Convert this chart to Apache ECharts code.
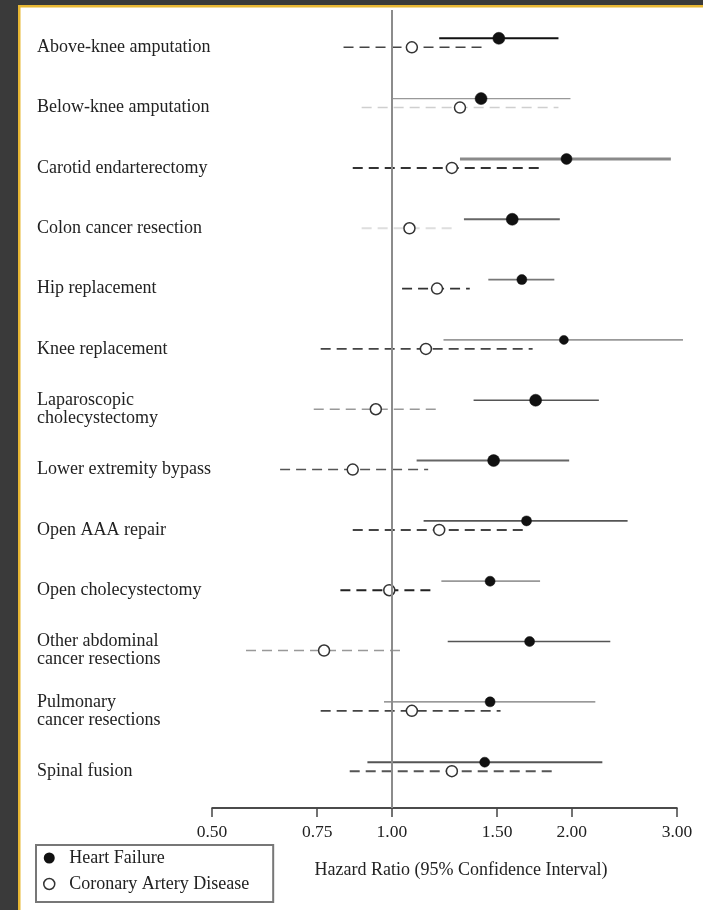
<!DOCTYPE html>
<html>
<head>
<meta charset="utf-8">
<script src="https://cdn.jsdelivr.net/npm/echarts@6/dist/echarts.min.js"></script>
<style>
  html, body { margin: 0; padding: 0; background: #fff; }
  #chart { width: 703px; height: 910px; }
</style>
</head>
<body>
<div id="chart"></div>
<script>
// Procedures, top to bottom
const procedures = [
  'Above-knee amputation',
  'Below-knee amputation',
  'Carotid endarterectomy',
  'Colon cancer resection',
  'Hip replacement',
  'Knee replacement',
  'Laparoscopic\ncholecystectomy',
  'Lower extremity bypass',
  'Open AAA repair',
  'Open cholecystectomy',
  'Other abdominal\ncancer resections',
  'Pulmonary\ncancer resections',
  'Spinal fusion'
];

// Heart failure: hazard ratio and 95% CI
const hfHR   = [1.51, 1.41, 1.96, 1.59, 1.65, 1.94, 1.74, 1.48, 1.68, 1.46, 1.70, 1.46, 1.43];
const hfLow  = [1.20, 1.00, 1.30, 1.32, 1.45, 1.22, 1.37, 1.10, 1.13, 1.21, 1.24, 0.97, 0.91];
const hfHigh = [1.90, 1.99, 2.93, 1.91, 1.87, 3.07, 2.22, 1.98, 2.48, 1.77, 2.32, 2.19, 2.25];

// Coronary artery disease: hazard ratio and 95% CI
const cadHR   = [1.08, 1.30, 1.26, 1.07, 1.19, 1.14, 0.94, 0.86, 1.20, 0.99, 0.77, 1.08, 1.26];
const cadLow  = [0.83, 0.89, 0.86, 0.89, 1.04, 0.76, 0.74, 0.65, 0.86, 0.82, 0.57, 0.76, 0.85];
const cadHigh = [1.42, 1.90, 1.79, 1.27, 1.35, 1.72, 1.19, 1.15, 1.67, 1.17, 1.04, 1.52, 1.86];

// Hazard-ratio ticks on the log axis
const xTicks = [0.5, 0.75, 1, 1.5, 2, 3];

// Per-row drawing styles (line tone / width, dot size)
const rowStyles = [
  { hf: '#111', hfW: 2.0, cad: '#444', cadW: 1.6, dot: 12 },
  { hf: '#999', hfW: 1.3, cad: '#cfcfcf', cadW: 1.5, dot: 12 },
  { hf: '#8a8a8a', hfW: 3.0, cad: '#333', cadW: 2.0, dot: 11 },
  { hf: '#666', hfW: 1.8, cad: '#dedede', cadW: 2.0, dot: 12 },
  { hf: '#777', hfW: 1.6, cad: '#333', cadW: 1.6, dot: 10 },
  { hf: '#999', hfW: 1.8, cad: '#444', cadW: 1.6, dot: 9 },
  { hf: '#555', hfW: 1.6, cad: '#999', cadW: 1.4, dot: 12 },
  { hf: '#666', hfW: 2.0, cad: '#555', cadW: 1.6, dot: 12 },
  { hf: '#555', hfW: 1.6, cad: '#444', cadW: 2.0, dot: 10 },
  { hf: '#999', hfW: 1.8, cad: '#222', cadW: 2.0, dot: 10 },
  { hf: '#555', hfW: 1.5, cad: '#999', cadW: 1.5, dot: 10 },
  { hf: '#777', hfW: 1.3, cad: '#444', cadW: 1.6, dot: 10 },
  { hf: '#555', hfW: 2.0, cad: '#555', cadW: 2.0, dot: 10 }
];

const serif = '"Liberation Serif", "Times New Roman", serif';
const textColor = '#222';
// Row names sit level with the lower (CAD) interval of each row
const labelShift = 0.075;

function intervalSeries(name, hr, low, high, isHF) {
  return {
    type: 'custom',
    name: name,
    clip: false,
    z: 3,
    encode: { x: [0, 1, 2], y: 3 },
    data: procedures.map((_, i) => [low[i], high[i], hr[i], i]),
    renderItem: function (params, api) {
      const row = api.value(3);
      const st = rowStyles[row];
      const shift = isHF ? -4.5 : 4.5;
      const pLo = api.coord([api.value(0), row]);
      const pHi = api.coord([api.value(1), row]);
      const pHr = api.coord([api.value(2), row]);
      const y = pLo[1] + shift;
      const line = {
        type: 'line',
        shape: { x1: pLo[0], y1: y, x2: pHi[0], y2: y },
        style: isHF
          ? { stroke: st.hf, lineWidth: st.hfW }
          : { stroke: st.cad, lineWidth: st.cadW, lineDash: [10, 6] }
      };
      const dot = {
        type: 'circle',
        shape: { cx: pHr[0], cy: y, r: isHF ? st.dot / 2 : 5.5 },
        style: isHF
          ? { fill: '#111', stroke: '#111', lineWidth: 0.5 }
          : { fill: '#fff', stroke: '#333', lineWidth: 1.5 }
      };
      return { type: 'group', children: [line, dot] };
    }
  };
}

const chart = echarts.init(document.getElementById('chart'), null, { renderer: 'canvas' });

chart.setOption({
  backgroundColor: '#fff',
  animation: false,
  graphic: [
    { type: 'rect', shape: { x: 0, y: 0, width: 18, height: 910 }, style: { fill: '#3a3a3a' }, z: 100 },
    { type: 'rect', shape: { x: 0, y: 0, width: 703, height: 5 }, style: { fill: '#3a3a3a' }, z: 100 },
    { type: 'rect', shape: { x: 18, y: 5, width: 2.5, height: 905 }, style: { fill: '#e8b733' }, z: 100 },
    { type: 'rect', shape: { x: 18, y: 5, width: 685, height: 2.5 }, style: { fill: '#e8b733' }, z: 100 }
  ],
  grid: { left: 212, right: 26, top: 10, bottom: 102 },
  xAxis: {
    type: 'log',
    logBase: 10,
    min: 0.5,
    max: 3,
    name: 'Hazard Ratio (95% Confidence Interval)',
    nameLocation: 'middle',
    nameGap: 53,
    nameTextStyle: { fontFamily: serif, fontSize: 18, color: textColor, padding: [0, 0, 0, 33] },
    axisLine: { onZero: false, lineStyle: { color: '#111', width: 1.5 } },
    axisTick: { customValues: xTicks, length: 9, lineStyle: { color: '#444', width: 1.5 } },
    axisLabel: {
      customValues: xTicks,
      formatter: v => Number(v).toFixed(2),
      margin: 15,
      fontFamily: serif,
      fontSize: 17.5,
      color: textColor
    },
    splitLine: { show: false }
  },
  yAxis: {
    type: 'value',
    inverse: true,
    min: -0.5437,
    max: 12.685,
    axisLine: { show: false },
    axisTick: { show: false },
    splitLine: { show: false },
    axisLabel: {
      customValues: procedures.map((_, i) => i + labelShift),
      formatter: v => procedures[Math.round(v)],
      align: 'left',
      margin: 175,
      fontFamily: serif,
      fontSize: 18,
      lineHeight: 18,
      color: textColor
    }
  },
  legend: {
    orient: 'vertical',
    left: 36,
    top: 845,
    padding: [3, 24, 8, 7],
    itemGap: 6,
    itemWidth: 30,
    itemHeight: 11,
    borderColor: '#777',
    borderWidth: 2,
    backgroundColor: '#fff',
    selectedMode: false,
    textStyle: { fontFamily: serif, fontSize: 18, lineHeight: 20, color: textColor },
    data: [
      { name: 'Heart Failure', icon: 'circle', itemStyle: { color: '#111' } },
      { name: 'Coronary Artery Disease', icon: 'circle',
        itemStyle: { color: '#fff', borderColor: '#333', borderWidth: 1.5 } }
    ]
  },
  series: [
    {
      type: 'line',
      name: 'reference',
      data: [],
      z: 1,
      silent: true,
      markLine: {
        silent: true,
        symbol: 'none',
        label: { show: false },
        lineStyle: { color: '#8c8c8c', width: 2, type: 'solid' },
        data: [{ xAxis: 1 }]
      }
    },
    intervalSeries('Heart Failure', hfHR, hfLow, hfHigh, true),
    intervalSeries('Coronary Artery Disease', cadHR, cadLow, cadHigh, false)
  ]
});
</script>
</body>
</html>
